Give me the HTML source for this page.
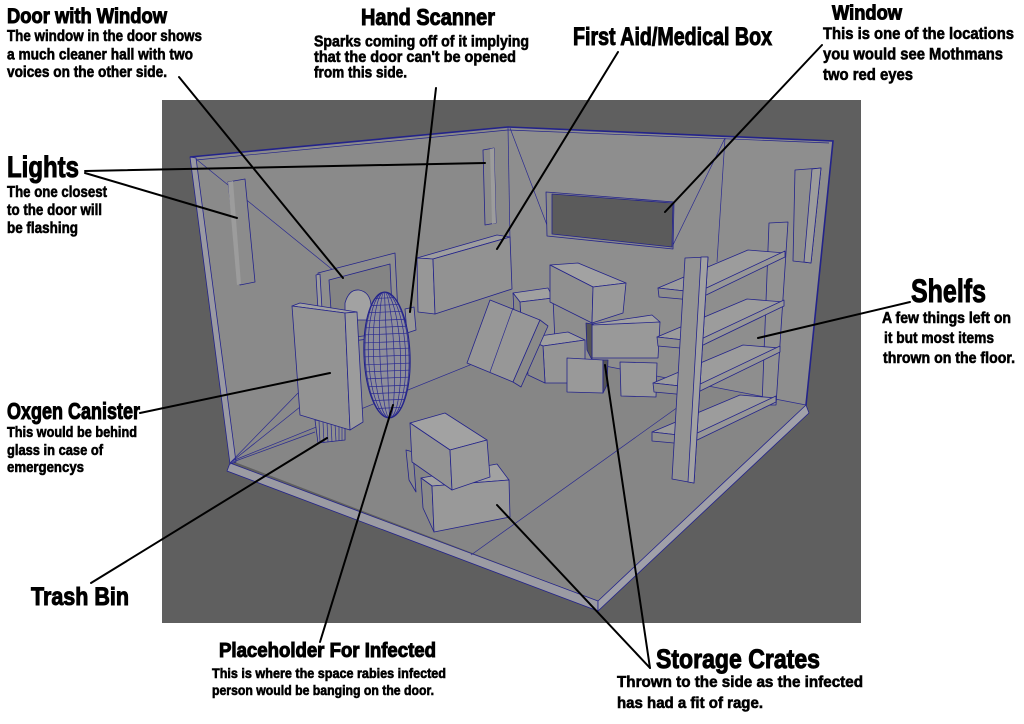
<!DOCTYPE html>
<html><head><meta charset="utf-8"><style>
html,body{margin:0;padding:0;background:#fff;}
svg{display:block;}
text{font-family:"Liberation Sans Narrow","Liberation Sans",sans-serif;font-weight:bold;fill:#000;}
.t{stroke:#000;stroke-width:1;}
.b{stroke:#000;stroke-width:0.6;}
.e{stroke:#23238a;stroke-width:0.8;stroke-linejoin:round;}
.w{stroke:#2a2a90;stroke-width:0.7;fill:none;}
.L{stroke:#000;stroke-width:2;fill:none;stroke-linecap:round;}
</style></head><body>
<svg width="1024" height="724" viewBox="0 0 1024 724" xmlns="http://www.w3.org/2000/svg">
<defs>
<clipPath id="egg"><ellipse cx="387" cy="355" rx="23" ry="63"/></clipPath>
</defs>
<rect width="1024" height="724" fill="#fff"/>
<rect x="162" y="100" width="699" height="523" fill="#5f5f5f"/>

<!-- walls & floor -->
<polygon points="508,127 833,141 806,405 512,348" fill="#8e8e8e"/>
<polygon points="190,157 508,127 512,348 232,461" fill="#8a8a8a"/>
<polygon points="232,461 512,348 806,405 598,601" fill="#868686"/>
<polygon points="230,463 598,601 598,611 227,471" fill="#9b9ba3" class="e"/>
<polygon points="598,601 806,405 809,413 598,611" fill="#a0a0a8" class="e"/>
<polygon points="190,157 196,158 236,462 230,464" fill="#9a9aa2" class="e"/>
<polyline points="190,157 508,127 833,141 806,405" fill="none" stroke="#23238a" stroke-width="1.6"/>
<polyline points="196,160 508,130 829,143" fill="none" stroke="#23238a" stroke-width="0.7"/>

<!-- wireframe lines -->
<line x1="508" y1="127" x2="510" y2="240" class="w"/>
<line x1="510" y1="128" x2="550" y2="233" class="w"/>
<line x1="725" y1="138" x2="672" y2="247" class="w"/>
<line x1="725" y1="138" x2="717" y2="262" class="w"/>
<line x1="196" y1="159" x2="360" y2="292" class="w"/>
<line x1="230" y1="463" x2="298" y2="393" class="w"/>
<line x1="230" y1="463" x2="300" y2="407" class="w"/>
<line x1="230" y1="463" x2="315" y2="432" class="w"/>
<line x1="232" y1="461" x2="512" y2="348" class="w"/>
<line x1="471" y1="555" x2="678" y2="407" class="w"/>
<line x1="512" y1="348" x2="806" y2="405" class="w"/>

<!-- window -->
<polygon points="546,192 674,202 673,249 547,236" fill="#8a8a8a" class="e"/>
<polygon points="552,194 673,203 672,247 552,234" fill="#5b5b5b" class="e"/>

<!-- lights -->
<polygon points="228,182 245,179 255,282 240,285" fill="#8c8c8c" class="e"/>
<polygon points="228,182 233,181 241,284 237,285" fill="#9c9c9c"/>
<polygon points="483,150 494,148 496,223 485,225" fill="#8c8c8c" class="e"/>
<polygon points="490,149 494,148 496,223 492,224" fill="#9c9c9c"/>
<polygon points="795,170 821,168 811,263 793,261" fill="#8e8e8e" class="e"/>
<polygon points="812,169 821,168 811,263 804,262" fill="#9c9c9c" class="e"/>

<!-- door -->
<polygon points="318,273 395,253 399,335 322,345" fill="#8e8e8e" class="e"/>
<polygon points="316,275 320,274 324,345 320,346" fill="#9c9c9c" class="e"/>
<polygon points="329,280 390,264 393,332 333,340" fill="#848484" class="e"/>
<path d="M345,320 L345,303 Q349,289 359,290 Q370,292 371,305 L371,320 Z" fill="#a2a2a2" class="e"/>

<!-- hand scanner -->
<polygon points="405,309 414,307 416,330 407,333" fill="#969696" class="e"/>

<!-- medical box -->
<polygon points="417,258 497,235 510,237 433,259" fill="#9e9e9e" class="e"/>
<polygon points="417,258 433,259 435,314 418,312" fill="#979797" class="e"/>
<polygon points="433,259 510,237 512,289 435,314" fill="#929292" class="e"/>

<!-- box cluster -->
<polygon points="513,293 548,288 553,298 520,302" fill="#a0a0a0" class="e"/>
<polygon points="520,302 553,298 555,342 522,345" fill="#939393" class="e"/>
<polygon points="513,293 520,302 522,345 515,335" fill="#888" class="e"/>
<polygon points="525,338 568,332 585,340 543,346" fill="#a0a0a0" class="e"/>
<polygon points="543,346 585,340 585,383 545,383" fill="#959595" class="e"/>
<polygon points="525,338 543,346 545,383 528,375" fill="#8a8a8a" class="e"/>
<polygon points="490,300 540,320 513,382 467,363" fill="#979797" class="e"/>
<polygon points="540,320 548,326 521,387 513,382" fill="#8a8a8a" class="e"/>
<line x1="513" y1="308" x2="490" y2="372" class="w"/>
<polygon points="550,265 578,263 626,283 593,287" fill="#a2a2a2" class="e"/>
<polygon points="550,265 593,287 592,323 550,302" fill="#909090" class="e"/>
<polygon points="593,287 626,283 623,313 592,323" fill="#999" class="e"/>
<polygon points="592,324 652,315 660,322 598,327" fill="#a2a2a2" class="e"/>
<polygon points="592,325 660,322 658,358 592,358" fill="#999" class="e"/>
<polygon points="586,323 592,324 592,360 587,350" fill="#555" class="e"/>
<polygon points="567,358 603,360 603,393 567,392" fill="#999" class="e"/>
<polygon points="603,360 608,360 607,385 603,393" fill="#555" class="e"/>
<polygon points="620,362 657,363 656,397 621,396" fill="#999" class="e"/>

<!-- shelves -->
<polygon points="769,223 788,222 776,405 762,405" fill="#929292" class="e"/>
<g>
<polygon points="658,288 748,250 785,253 703,293" fill="#9c9c9c" class="e"/>
<polygon points="658,288 703,293 703,301 659,297" fill="#8e8e8e" class="e"/>
<polygon points="700,291 785,251 785,257 700,298" fill="#979797" class="e"/>
<polygon points="657,337 747,299 784,302 702,342" fill="#9c9c9c" class="e"/>
<polygon points="657,337 702,342 702,350 658,346" fill="#8e8e8e" class="e"/>
<polygon points="699,340 784,300 784,306 699,347" fill="#979797" class="e"/>
<polygon points="653,383 743,345 780,348 698,388" fill="#9c9c9c" class="e"/>
<polygon points="653,383 698,388 698,396 654,392" fill="#8e8e8e" class="e"/>
<polygon points="696,386 780,346 780,352 696,393" fill="#979797" class="e"/>
<polygon points="652,432 740,395 776,398 696,437" fill="#9c9c9c" class="e"/>
<polygon points="652,432 696,437 696,445 652,441" fill="#8e8e8e" class="e"/>
<polygon points="693,435 776,396 776,402 693,442" fill="#979797" class="e"/>
</g>
<polygon points="685,258 708,257 694,483 672,479" fill="#939393" class="e"/>
<polygon points="701,257 708,257 694,483 688,482" fill="#a2a2a2" class="e"/>

<!-- oxygen canister & trash -->
<polygon points="315,420 345,425 345,440 318,443" fill="#8f8f8f" class="e"/>
<g class="w">
<line x1="319" y1="421" x2="320" y2="443"/><line x1="323" y1="422" x2="324" y2="443"/>
<line x1="327" y1="422" x2="328" y2="442"/><line x1="331" y1="423" x2="332" y2="442"/>
<line x1="335" y1="423" x2="336" y2="441"/><line x1="339" y1="424" x2="339" y2="441"/>
<line x1="342" y1="424" x2="342" y2="440"/>
</g>
<polygon points="292,306 300,303 357,312 345,313" fill="#a2a2a2" class="e"/>
<polygon points="292,306 345,313 350,430 300,415" fill="#939393" class="e"/>
<polygon points="345,313 357,312 363,422 350,430" fill="#9c9c9c" class="e"/>

<!-- placeholder ellipsoid -->
<g transform="rotate(-2.3 387 355)">
<ellipse cx="387" cy="355" rx="23" ry="63" fill="#8e8e9a"/>
<g clip-path="url(#egg)" class="w">
<ellipse cx="387" cy="355" rx="21.9" ry="63"/>
<ellipse cx="387" cy="355" rx="18.6" ry="63"/>
<ellipse cx="387" cy="355" rx="13.5" ry="63"/>
<ellipse cx="387" cy="355" rx="7.1" ry="63"/>
<line x1="387" y1="290" x2="387" y2="420"/>
<line x1="360" y1="298" x2="414" y2="298"/><line x1="360" y1="305" x2="414" y2="305"/>
<line x1="360" y1="312" x2="414" y2="312"/><line x1="360" y1="320" x2="414" y2="320"/>
<line x1="360" y1="327" x2="414" y2="327"/><line x1="360" y1="334" x2="414" y2="334"/>
<line x1="360" y1="342" x2="414" y2="342"/><line x1="360" y1="349" x2="414" y2="349"/>
<line x1="360" y1="356" x2="414" y2="356"/><line x1="360" y1="364" x2="414" y2="364"/>
<line x1="360" y1="371" x2="414" y2="371"/><line x1="360" y1="378" x2="414" y2="378"/>
<line x1="360" y1="386" x2="414" y2="386"/><line x1="360" y1="393" x2="414" y2="393"/>
<line x1="360" y1="400" x2="414" y2="400"/><line x1="360" y1="408" x2="414" y2="408"/>
</g>
<ellipse cx="387" cy="355" rx="23" ry="63" fill="none" stroke="#23238a" stroke-width="1.1"/>
</g>

<!-- front crates -->
<polygon points="406,450 413,452 416,492 409,480" fill="#8a8a8a" class="e"/>
<polygon points="421,478 497,464 509,480 432,486" fill="#a2a2a2" class="e"/>
<polygon points="421,478 432,486 434,532 423,508" fill="#8a8a8a" class="e"/>
<polygon points="432,486 509,480 510,517 434,532" fill="#999" class="e"/>
<polygon points="410,423 445,413 487,440 450,450" fill="#a2a2a2" class="e"/>
<polygon points="410,423 450,450 452,490 412,462" fill="#939393" class="e"/>
<polygon points="450,450 487,440 490,477 452,490" fill="#9a9a9a" class="e"/>

<!-- leader lines -->
<line x1="179" y1="77" x2="343" y2="278" class="L"/>
<line x1="436" y1="88" x2="410" y2="312" class="L"/>
<line x1="618" y1="52" x2="497" y2="249" class="L"/>
<line x1="822" y1="45" x2="665" y2="212" class="L"/>
<line x1="85" y1="171" x2="485" y2="163" class="L"/>
<line x1="85" y1="173" x2="237" y2="218" class="L"/>
<line x1="140" y1="413" x2="330" y2="373" class="L"/>
<line x1="910" y1="302" x2="758" y2="338" class="L"/>
<line x1="91" y1="583" x2="327" y2="438" class="L"/>
<line x1="320" y1="642" x2="393" y2="405" class="L"/>
<line x1="650" y1="668" x2="497" y2="505" class="L"/>
<line x1="650" y1="668" x2="605" y2="365" class="L"/>

<!-- titles -->
<text class="t" x="7" y="23" font-size="21" textLength="160" lengthAdjust="spacingAndGlyphs">Door with Window</text>
<text class="t" x="361" y="25" font-size="23" textLength="134" lengthAdjust="spacingAndGlyphs">Hand Scanner</text>
<text class="t" x="573" y="45" font-size="25" textLength="199" lengthAdjust="spacingAndGlyphs">First Aid/Medical Box</text>
<text class="t" x="832" y="19.5" font-size="20" textLength="70" lengthAdjust="spacingAndGlyphs">Window</text>
<text class="t" x="7" y="177" font-size="30" textLength="72" lengthAdjust="spacingAndGlyphs">Lights</text>
<text class="t" x="7" y="419" font-size="23" textLength="133" lengthAdjust="spacingAndGlyphs">Oxgen Canister</text>
<text class="t" x="911" y="302" font-size="32" textLength="75" lengthAdjust="spacingAndGlyphs">Shelfs</text>
<text class="t" x="31" y="605" font-size="25" textLength="98" lengthAdjust="spacingAndGlyphs">Trash Bin</text>
<text class="t" x="219" y="657" font-size="20" textLength="217" lengthAdjust="spacingAndGlyphs">Placeholder For Infected</text>
<text class="t" x="656" y="668" font-size="27" textLength="164" lengthAdjust="spacingAndGlyphs">Storage Crates</text>

<!-- bodies -->
<g class="b" font-size="16">
<text x="7" y="41" textLength="195" lengthAdjust="spacingAndGlyphs">The window in the door shows</text>
<text x="7" y="59.5" textLength="186" lengthAdjust="spacingAndGlyphs">a much cleaner hall with two</text>
<text x="7" y="77" textLength="160" lengthAdjust="spacingAndGlyphs">voices on the other side.</text>
<text x="314" y="46.5" textLength="215" lengthAdjust="spacingAndGlyphs">Sparks coming off of it implying</text>
<text x="314" y="62" textLength="202" lengthAdjust="spacingAndGlyphs">that the door can't be opened</text>
<text x="314" y="77.5" textLength="93" lengthAdjust="spacingAndGlyphs">from this side.</text>
</g>
<g class="b" font-size="16.5">
<text x="823" y="39" textLength="191" lengthAdjust="spacingAndGlyphs">This is one of the locations</text>
<text x="823" y="59.5" textLength="180" lengthAdjust="spacingAndGlyphs">you would see Mothmans</text>
<text x="823" y="80" textLength="90" lengthAdjust="spacingAndGlyphs">two red eyes</text>
</g>
<g class="b" font-size="15">
<text x="7" y="437" textLength="130" lengthAdjust="spacingAndGlyphs">This would be behind</text>
<text x="7" y="455" textLength="96" lengthAdjust="spacingAndGlyphs">glass in case of</text>
<text x="7" y="472" textLength="77" lengthAdjust="spacingAndGlyphs">emergencys</text>
</g>
<g class="b" font-size="16">
<text x="7" y="197" textLength="100" lengthAdjust="spacingAndGlyphs">The one closest</text>
<text x="7" y="215" textLength="95" lengthAdjust="spacingAndGlyphs">to the door will</text>
<text x="7" y="233" textLength="71" lengthAdjust="spacingAndGlyphs">be flashing</text>
<text x="882" y="323" textLength="129" lengthAdjust="spacingAndGlyphs">A few things left on</text>
<text x="884" y="343" textLength="110" lengthAdjust="spacingAndGlyphs">it but most items</text>
<text x="883" y="363" textLength="132" lengthAdjust="spacingAndGlyphs">thrown on the floor.</text>
<text x="617" y="687" textLength="246" lengthAdjust="spacingAndGlyphs">Thrown to the side as the infected</text>
<text x="617" y="708" textLength="146" lengthAdjust="spacingAndGlyphs">has had a fit of rage.</text>
</g>
<g class="b" font-size="14">
<text x="212" y="678" textLength="234" lengthAdjust="spacingAndGlyphs">This is where the space rabies infected</text>
<text x="212" y="695" textLength="222" lengthAdjust="spacingAndGlyphs">person would be banging on the door.</text>
</g>
</svg>
</body></html>
